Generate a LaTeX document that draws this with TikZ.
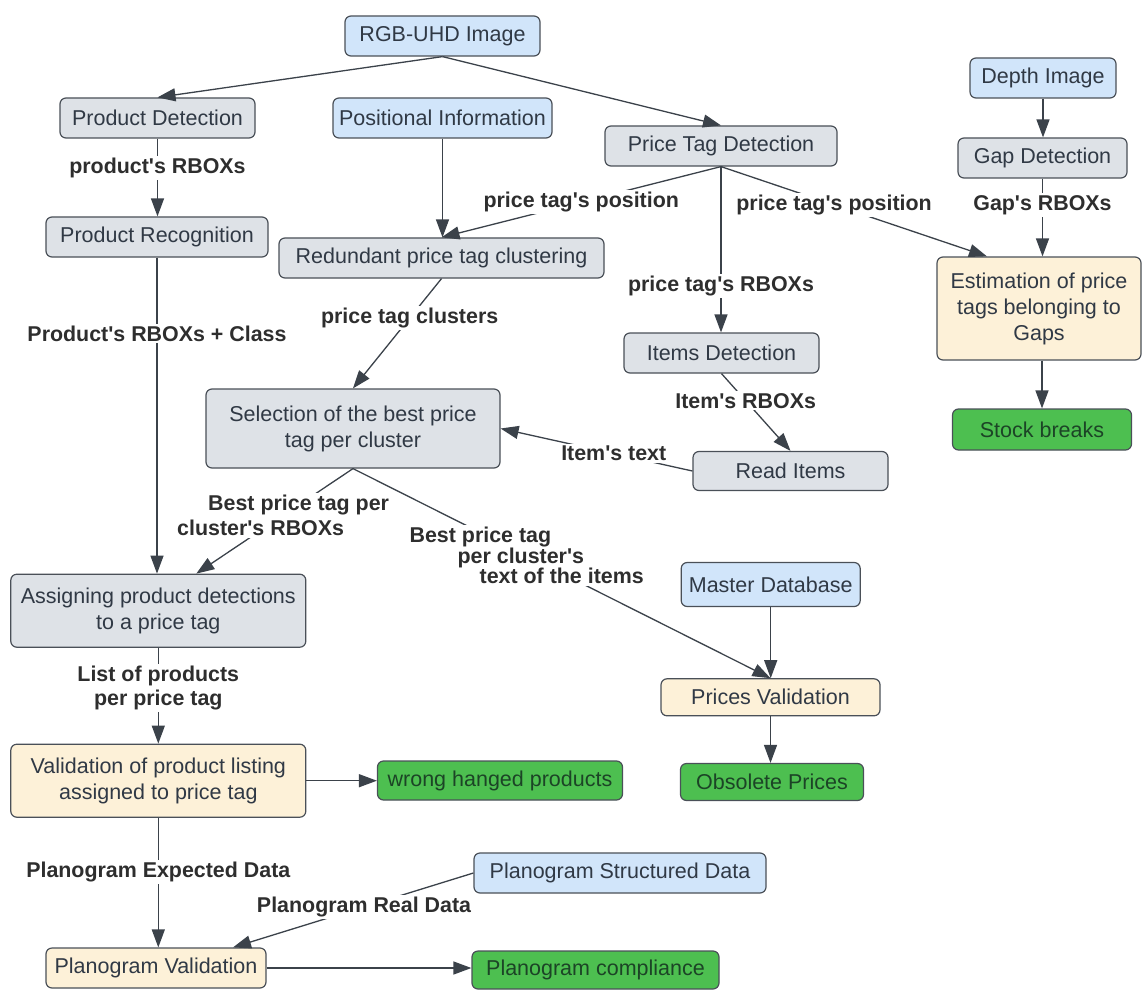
\documentclass[tikz,border=0pt]{standalone}
\usepackage{fontspec}
\setmainfont{Liberation Sans}
\usetikzlibrary{arrows.meta,calc}
\definecolor{lineC}{HTML}{3B424A}
\definecolor{borderC}{HTML}{4A5058}
\definecolor{blueF}{HTML}{D1E5FA}
\definecolor{grayF}{HTML}{DEE2E7}
\definecolor{yellowF}{HTML}{FDF1D8}
\definecolor{greenF}{HTML}{4DBF50}
\definecolor{txtC}{HTML}{303945}
\definecolor{gtxtC}{HTML}{1C4426}
\definecolor{lblC}{HTML}{2E2E2E}
\newcommand{\q}{\textquotesingle}
\begin{document}
\begin{tikzpicture}[x=1pt,y=-1pt,
  box/.style={draw=borderC, line width=1.2pt, rounded corners=6pt, text=txtC,
    font=\fontsize{21.5}{26}\selectfont, align=center, inner sep=2pt},
  bluebox/.style={box, fill=blueF},
  graybox/.style={box, fill=grayF},
  ylwbox/.style={box, fill=yellowF},
  grnbox/.style={box, fill=greenF, text=gtxtC},
  conn/.style={draw=lineC, line width=1.3pt, -{Triangle[length=18pt,width=13pt]}},
  lbl/.style={fill=white, text=lblC, font=\bfseries\fontsize{21.4}{24.5}\selectfont,
    align=center, inner sep=2pt},
]
\useasboundingbox (0,0) rectangle (1142,992);
\fill[white] (0,0) rectangle (1142,992);

% nodes
\node[bluebox, minimum width=195pt, minimum height=40pt] (rgb) at (442.5,36) {RGB-UHD Image};
\node[graybox, minimum width=195pt, minimum height=40pt] (pdet) at (157.5,118) {Product Detection};
\node[bluebox, minimum width=219pt, minimum height=40pt] (posinfo) at (442.5,118) {Positional Information};
\node[graybox, minimum width=232pt, minimum height=40pt] (ptd) at (721,146) {Price Tag Detection};
\node[bluebox, minimum width=146pt, minimum height=40pt] (depth) at (1043,78) {Depth Image};
\node[graybox, minimum width=169pt, minimum height=40pt] (gapdet) at (1042.5,158) {Gap Detection};
\node[graybox, minimum width=222pt, minimum height=40pt] (precog) at (157,237) {Product Recognition};
\node[graybox, minimum width=325pt, minimum height=40pt] (redund) at (441.5,258) {Redundant price tag clustering};
\node[ylwbox, minimum width=204pt, minimum height=103pt] (estim) at (1039,308.5) {Estimation of price\\tags belonging to\\Gaps};
\node[graybox, minimum width=195pt, minimum height=40pt] (itemsdet) at (721.5,353) {Items Detection};
\node[graybox, minimum width=294pt, minimum height=79pt] (select) at (353,428.5) {Selection of the best price\\tag per cluster};
\node[graybox, minimum width=195pt, minimum height=39pt] (readitems) at (790.5,471) {Read Items};
\node[grnbox, minimum width=179pt, minimum height=41pt] (stock) at (1042,429.5) {Stock breaks};
\node[graybox, minimum width=295pt, minimum height=73pt] (assign) at (158.3,610.7) {Assigning product detections\\to a price tag};
\node[bluebox, minimum width=179pt, minimum height=44pt] (masterdb) at (770.7,584.5) {Master Database};
\node[ylwbox, minimum width=219pt, minimum height=37pt] (pricesval) at (770.5,697.3) {Prices Validation};
\node[ylwbox, minimum width=295pt, minimum height=73pt] (validation) at (158.3,780.7) {Validation of product listing\\assigned to price tag};
\node[grnbox, minimum width=245pt, minimum height=39pt] (wrong) at (500,780.5) {wrong hanged products};
\node[grnbox, minimum width=183pt, minimum height=37pt] (obsolete) at (772,782) {Obsolete Prices};
\node[bluebox, minimum width=292pt, minimum height=40pt] (psd) at (620,873) {Planogram Structured Data};
\node[ylwbox, minimum width=220pt, minimum height=40pt] (planval) at (156,968) {Planogram Validation};
\node[grnbox, minimum width=247pt, minimum height=38pt] (compliance) at (595.5,970) {Planogram compliance};

% connectors
\draw[conn] (rgb.south) -- (pdet.north);
\draw[conn] (rgb.south) -- (ptd.north);
\draw[conn] (posinfo.south) -- (posinfo.south |- redund.north);
\draw[conn] (ptd.south) -- node[lbl, pos=0.5] (l1) {price tag\q s position} (redund.north);
\draw[conn] (ptd.south) -- node[lbl, pos=0.72] (l2) {price tag\q s RBOXs} (ptd.south |- itemsdet.north);
\draw[conn] (ptd.south) -- node[lbl, pos=0.425] (l3) {price tag\q s position} ([xshift=-52pt]estim.north);
\draw[conn] (depth.south) -- (depth.south |- gapdet.north);
\draw[conn] (gapdet.south) -- node[lbl, pos=0.34] (l4) {Gap\q s RBOXs} (gapdet.south |- estim.north);
\draw[conn] (stock.north |- estim.south) -- (stock.north);
\draw[conn] (pdet.south) -- node[lbl, pos=0.38] (l5) {product\q s RBOXs} (pdet.south |- precog.north);
\draw[conn] (precog.south) -- node[lbl, pos=0.24] (l6) {Product\q s RBOXs + Class} (precog.south |- assign.north);
\draw[conn] (redund.south) -- node[lbl, pos=0.36] (l7) {price tag clusters} (select.north);
\draw[conn] (itemsdet.south) -- node[lbl, pos=0.35] (l8) {Item\q s RBOXs} (readitems.north);
\draw[conn] (readitems.west) -- node[lbl, pos=0.41] (l9) {Item\q s text} (select.east);
\draw[conn] (select.south) -- node[lbl, pos=0.446, align=left] (l10) {\hspace*{31pt}Best price tag per\\cluster\q s RBOXs} ([xshift=38pt]assign.north);
\draw[conn] (select.south) -- node[lbl, pos=0.416, align=left, font=\bfseries\fontsize{21.4}{20.5}\selectfont] (l11) {Best price tag\\\hspace*{48pt}per cluster\q s\\\hspace*{70pt}text of the items} (pricesval.north);
\draw[conn] (masterdb.south) -- (masterdb.south |- pricesval.north);
\draw[conn] (pricesval.south) -- (pricesval.south |- obsolete.north);
\draw[conn] (assign.south) -- node[lbl, pos=0.42] (l12) {List of products\\per price tag} (validation.north);
\draw[conn] (validation.east) -- (validation.east -| wrong.west);
\draw[conn] (validation.south) -- node[lbl, pos=0.42] (l13) {Planogram Expected Data} (validation.south |- planval.north);
\draw[conn] (psd.west) -- node[lbl, pos=0.455] (l14) {Planogram Real Data} ([xshift=77pt]planval.north);
\draw[conn] (planval.east) -- (planval.east -| compliance.west);
\end{tikzpicture}
\end{document}
